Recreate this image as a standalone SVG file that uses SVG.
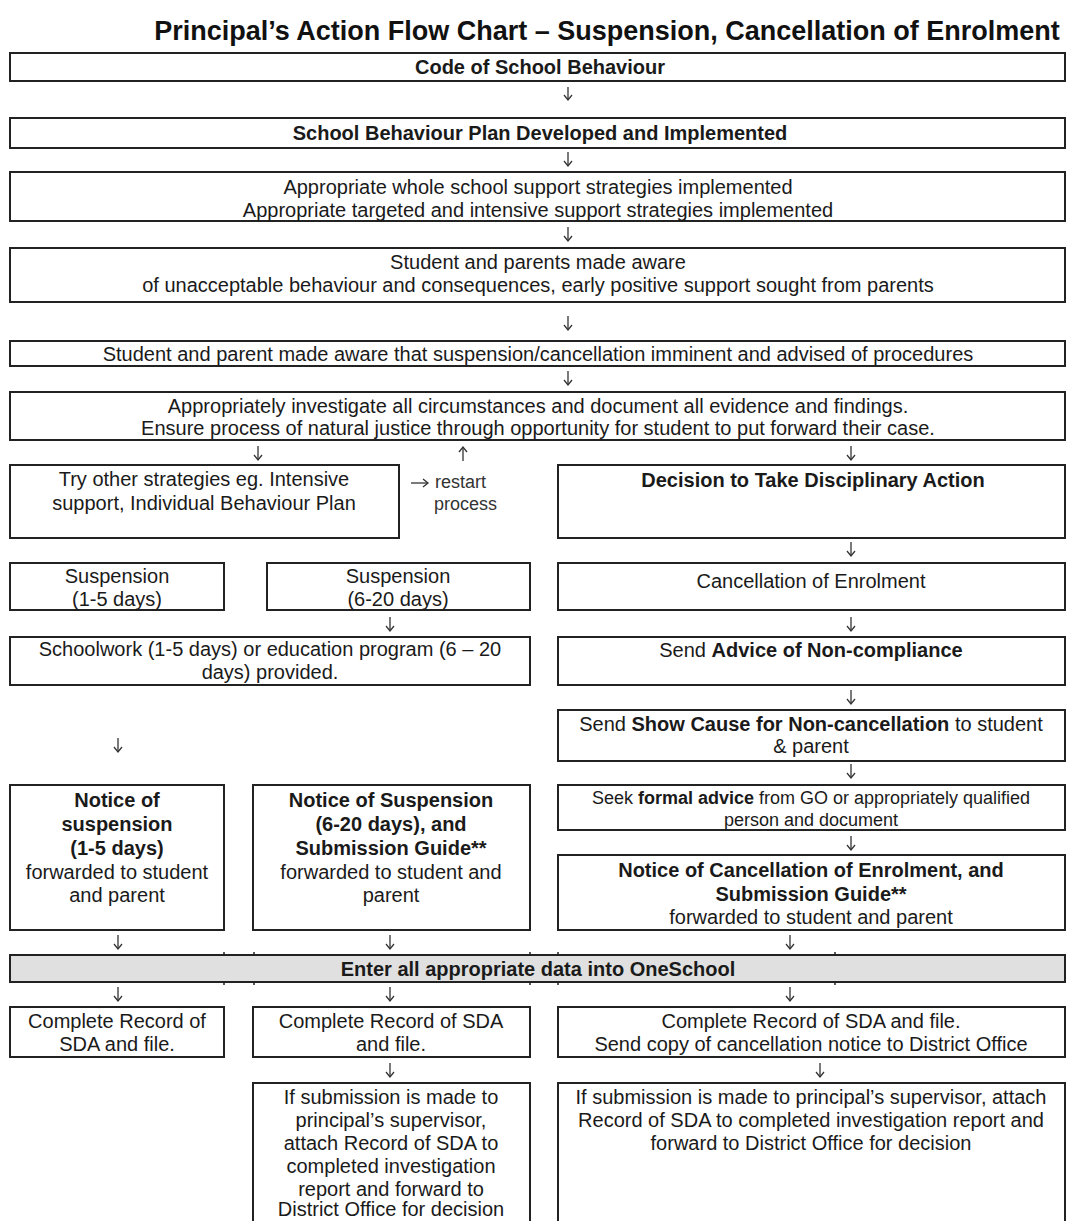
<svg xmlns="http://www.w3.org/2000/svg" width="1069" height="1221" viewBox="0 0 1069 1221">
<defs>
<style>
.box{fill:#fff;stroke:#222;stroke-width:2}
.band{fill:#e0e0e0;stroke:#222;stroke-width:2}
.t{font-family:"Liberation Sans",Arial,sans-serif;font-size:20px;fill:#1a1a1a;text-anchor:middle}
.s{font-size:18px}
.r{font-size:18px;fill:#333;text-anchor:start}
.b{font-weight:bold}
.title{font-family:"Liberation Sans",Arial,sans-serif;font-size:27px;font-weight:bold;fill:#111;text-anchor:middle}
.conn{stroke:#333;stroke-width:1.3;fill:none;marker-end:url(#ah)}
.tick{stroke:#222;stroke-width:1.5}
</style>
<marker id="ah" viewBox="-6 -6 12 12" refX="0" refY="0" markerWidth="12" markerHeight="12" markerUnits="userSpaceOnUse" orient="auto">
<path d="M-5,-4 L0,0 L-5,4" fill="none" stroke="#333" stroke-width="1.3"/>
</marker>
</defs>
<rect width="1069" height="1221" fill="#fff"/>
<text class="title" x="607" y="40">Principal’s Action Flow Chart – Suspension, Cancellation of Enrolment</text>

<g id="n-code"><rect class="box" x="10" y="53" width="1055" height="28"/><text class="t b" x="540" y="74">Code of School Behaviour</text></g>
<g id="n-plan"><rect class="box" x="10" y="118" width="1055" height="30"/><text class="t b" x="540" y="140">School Behaviour Plan Developed and Implemented</text></g>
<g id="n-strategies"><rect class="box" x="10" y="172" width="1055" height="49"/><text class="t" x="538" y="194">Appropriate whole school support strategies implemented</text><text class="t" x="538" y="217">Appropriate targeted and intensive support strategies implemented</text></g>
<g id="n-aware"><rect class="box" x="10" y="248" width="1055" height="54"/><text class="t" x="538" y="269">Student and parents made aware</text><text class="t" x="538" y="292">of unacceptable behaviour and consequences, early positive support sought from parents</text></g>
<g id="n-imminent"><rect class="box" x="10" y="341" width="1055" height="25"/><text class="t" x="538" y="361">Student and parent made aware that suspension/cancellation imminent and advised of procedures</text></g>
<g id="n-investigate"><rect class="box" x="10" y="392" width="1055" height="48"/><text class="t" x="538" y="413">Appropriately investigate all circumstances and document all evidence and findings.</text><text class="t" x="538" y="435">Ensure process of natural justice through opportunity for student to put forward their case.</text></g>

<g id="n-try"><rect class="box" x="10" y="465" width="389" height="73"/><text class="t" x="204" y="486">Try other strategies eg. Intensive</text><text class="t" x="204" y="510">support, Individual Behaviour Plan</text></g>
<g id="n-restart"><text class="t r" x="435" y="488">restart</text><text class="t r" x="434" y="510">process</text></g>
<g id="n-decision"><rect class="box" x="558" y="465" width="507" height="73"/><text class="t b" x="813" y="487">Decision to Take Disciplinary Action</text></g>

<g id="n-susp15"><rect class="box" x="10" y="563" width="214" height="47"/><text class="t" x="117" y="583">Suspension</text><text class="t" x="117" y="606">(1-5 days)</text></g>
<g id="n-susp620"><rect class="box" x="267" y="563" width="263" height="47"/><text class="t" x="398" y="583">Suspension</text><text class="t" x="398" y="606">(6-20 days)</text></g>
<g id="n-cancel"><rect class="box" x="558" y="563" width="507" height="47"/><text class="t" x="811" y="588">Cancellation of Enrolment</text></g>

<g id="n-schoolwork"><rect class="box" x="10" y="637" width="520" height="48"/><text class="t" x="270" y="656">Schoolwork (1-5 days) or education program (6 – 20</text><text class="t" x="270" y="679">days) provided.</text></g>
<g id="n-advice"><rect class="box" x="558" y="637" width="507" height="48"/><text class="t" x="811" y="657">Send <tspan class="b">Advice of Non-compliance</tspan></text></g>
<g id="n-showcause"><rect class="box" x="558" y="710" width="507" height="51"/><text class="t" x="811" y="731">Send <tspan class="b">Show Cause for Non-cancellation</tspan> to student</text><text class="t" x="811" y="753">&amp; parent</text></g>

<g id="n-notice15"><rect class="box" x="10" y="785" width="214" height="145"/><text class="t b" x="117" y="807">Notice of</text><text class="t b" x="117" y="831">suspension</text><text class="t b" x="117" y="855">(1-5 days)</text><text class="t" x="117" y="879">forwarded to student</text><text class="t" x="117" y="902">and parent</text></g>
<g id="n-notice620"><rect class="box" x="253" y="785" width="277" height="145"/><text class="t b" x="391" y="807">Notice of Suspension</text><text class="t b" x="391" y="831">(6-20 days), and</text><text class="t b" x="391" y="855">Submission Guide**</text><text class="t" x="391" y="879">forwarded to student and</text><text class="t" x="391" y="902">parent</text></g>
<g id="n-seek"><rect class="box" x="558" y="785" width="507" height="45"/><text class="t s" x="811" y="804">Seek <tspan class="b">formal advice</tspan> from GO or appropriately qualified</text><text class="t s" x="811" y="826">person and document</text></g>
<g id="n-noticecancel"><rect class="box" x="558" y="855" width="507" height="75"/><text class="t b" x="811" y="877">Notice of Cancellation of Enrolment, and</text><text class="t b" x="811" y="901">Submission Guide**</text><text class="t" x="811" y="924">forwarded to student and parent</text></g>

<g id="n-oneschool"><rect class="band" x="10" y="955" width="1055" height="27"/><text class="t b" x="538" y="976">Enter all appropriate data into OneSchool</text>
<path class="tick" d="M224,952V956M254,952V956M530,952V956M558,952V956M835,952V956M224,981V985M254,981V985M530,981V985M558,981V985M835,981V985"/></g>

<g id="n-recordA"><rect class="box" x="10" y="1007" width="214" height="50"/><text class="t" x="117" y="1028">Complete Record of</text><text class="t" x="117" y="1051">SDA and file.</text></g>
<g id="n-recordB"><rect class="box" x="253" y="1007" width="277" height="50"/><text class="t" x="391" y="1028">Complete Record of SDA</text><text class="t" x="391" y="1051">and file.</text></g>
<g id="n-recordC"><rect class="box" x="558" y="1007" width="507" height="50"/><text class="t" x="811" y="1028">Complete Record of SDA and file.</text><text class="t" x="811" y="1051">Send copy of cancellation notice to District Office</text></g>

<g id="n-submitB"><rect class="box" x="253" y="1083" width="277" height="150"/><text class="t" x="391" y="1104">If submission is made to</text><text class="t" x="391" y="1127">principal’s supervisor,</text><text class="t" x="391" y="1150">attach Record of SDA to</text><text class="t" x="391" y="1173">completed investigation</text><text class="t" x="391" y="1196">report and forward to</text><text class="t" x="391" y="1216">District Office for decision</text></g>
<g id="n-submitC"><rect class="box" x="558" y="1083" width="507" height="150"/><text class="t" x="811" y="1104">If submission is made to principal’s supervisor, attach</text><text class="t" x="811" y="1127">Record of SDA to completed investigation report and</text><text class="t" x="811" y="1150">forward to District Office for decision</text></g>

<g id="connectors">
<path class="conn" d="M568,87V100"/>
<path class="conn" d="M568,152V166"/>
<path class="conn" d="M568,227V241"/>
<path class="conn" d="M568,316V330"/>
<path class="conn" d="M568,371V385"/>
<path class="conn" d="M258,446V460"/>
<path class="conn" d="M463,461V447"/>
<path class="conn" d="M851,446V460"/>
<path class="conn" d="M411,483H428"/>
<path class="conn" d="M851,542V556"/>
<path class="conn" d="M390,617V631"/>
<path class="conn" d="M851,617V631"/>
<path class="conn" d="M851,690V704"/>
<path class="conn" d="M118,738V752"/>
<path class="conn" d="M851,764V778"/>
<path class="conn" d="M851,836V850"/>
<path class="conn" d="M118,935V949"/>
<path class="conn" d="M390,935V949"/>
<path class="conn" d="M790,935V949"/>
<path class="conn" d="M118,987V1001"/>
<path class="conn" d="M390,987V1001"/>
<path class="conn" d="M790,987V1001"/>
<path class="conn" d="M390,1063V1077"/>
<path class="conn" d="M820,1063V1077"/>
</g>
</svg>
